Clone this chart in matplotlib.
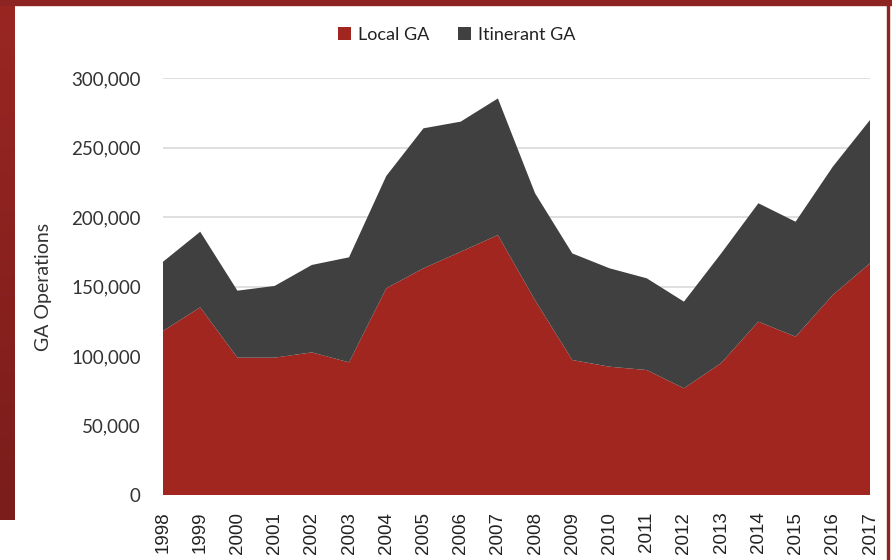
import numpy as np
import matplotlib.pyplot as plt
from matplotlib.patches import Rectangle
from matplotlib.colors import LinearSegmentedColormap
from matplotlib.ticker import FuncFormatter

years = list(range(1998, 2018))
local_ga = [118000, 135000, 98800, 98800, 102600, 95400, 148700, 163100, 175000, 187000,
            140000, 97100, 92300, 89900, 76800, 94900, 124700, 113900, 143900, 166700]
total_ga = [167800, 189400, 147000, 150400, 165500, 171000, 229500, 263800, 268600, 285300,
            217000, 173800, 163100, 155900, 139100, 173800, 209900, 196600, 236200, 269800]
itinerant_ga = [t - l for t, l in zip(total_ga, local_ga)]

red = '#a0261f'
dark = '#404040'

fig = plt.figure(figsize=(8.92, 5.6), dpi=100)
fig.patch.set_facecolor('white')

# dark red frame around the slide
grad = np.linspace(0, 1, 256).reshape(-1, 1)
bar_ax = fig.add_axes([0, 40 / 560, 15 / 892, 520 / 560])
bar_ax.imshow(grad, aspect='auto', cmap=LinearSegmentedColormap.from_list(
    'b', ['#9a2622', '#7a1d1b']))
bar_ax.axis('off')
fig.patches.append(Rectangle((0, 1 - 5 / 560), 1, 5 / 560, transform=fig.transFigure,
                             color='#8e2421', zorder=5))
fig.patches.append(Rectangle((887 / 892, 0), 2 / 892, 1, transform=fig.transFigure,
                             color='#8e2421', zorder=5))

ax = fig.add_axes([163 / 892, 65 / 560, 707 / 892, 417 / 560])
ax.stackplot(years, local_ga, itinerant_ga, colors=[red, dark],
             labels=['Local GA', 'Itinerant GA'], zorder=2)
ax.set_xlim(1998, 2017)
ax.set_ylim(0, 300000)
ax.set_yticks(range(0, 300001, 50000))
ax.yaxis.set_major_formatter(FuncFormatter(lambda v, p: f'{int(v):,}'))
ax.set_xticks(years)
ax.set_xticklabels([str(y) for y in years], rotation=90, fontsize=13.5,
                   family='Liberation Sans', color='#222222')
for lab in ax.get_yticklabels():
    lab.set_family('Lato')
    lab.set_fontsize(13.5)
    lab.set_color('#333333')
ax.grid(axis='y', color='#d9d9d9', linewidth=1.2, zorder=1)
ax.set_axisbelow(True)
for s in ax.spines.values():
    s.set_visible(False)
ax.tick_params(axis='y', length=0, pad=16)
ax.tick_params(axis='x', length=0, pad=12)
ax.set_ylabel('GA Operations', fontsize=14, family='Lato', color='#333333', labelpad=14)

leg = fig.legend(loc='center', bbox_to_anchor=(457 / 892, 1 - 35 / 560), ncol=2, frameon=False,
                 prop={'family': 'Lato', 'size': 13}, handlelength=0.7, handleheight=0.7,
                 handletextpad=0.4, columnspacing=1.6)
for t in leg.get_texts():
    t.set_color('#222222')

fig.savefig('out.png', dpi=100)
